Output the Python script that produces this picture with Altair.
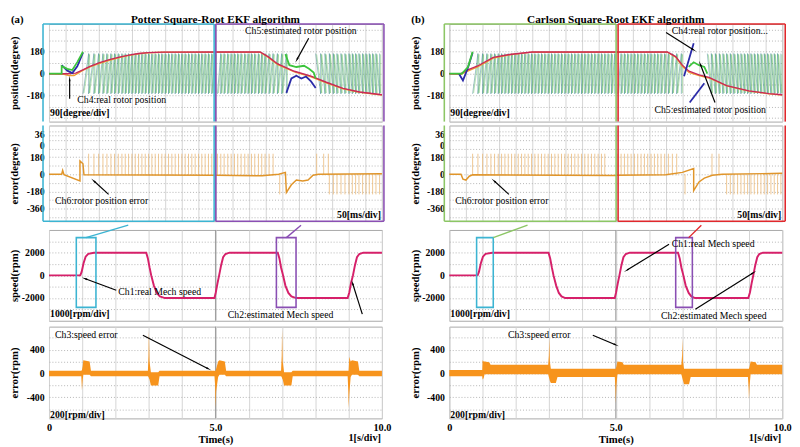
import math
import altair as alt
import pandas as pd

SERIF = "Liberation Serif"

# ---------------- values ----------------
# Zoomed panels: x is in divisions, 0-5 = first zoom window, 5-10 = second zoom window
A_TEETH_L = [1.02, 1.19, 1.35, 1.49, 1.62, 1.74, 1.86, 1.97, 2.08, 2.19, 2.29, 2.39, 2.49, 2.59,
             2.69, 2.79, 2.89, 2.99, 3.09, 3.19, 3.29, 3.39, 3.49, 3.59, 3.69, 3.79, 3.89, 3.99,
             4.09, 4.19, 4.29, 4.39, 4.49, 4.59, 4.69, 4.79, 4.89, 4.99]
A_TEETH_R1 = [5.06, 5.16, 5.26, 5.37, 5.47, 5.57, 5.67, 5.77, 5.88, 5.98, 6.08, 6.18, 6.29, 6.39,
              6.49, 6.61, 6.73, 6.86, 6.99, 7.13]
A_TEETH_R2 = [8.01, 8.16, 8.29, 8.42, 8.54, 8.65, 8.77, 8.89, 9.01, 9.11, 9.21, 9.31, 9.42, 9.52,
              9.62, 9.72, 9.82, 9.93]
A_BLUE = [[(0.38, 70), (0.55, 25), (0.70, 5), (0.85, 60), (1.02, 172)],
          [(7.13, -157), (7.28, -39), (7.43, -16), (7.58, -39), (7.72, -23), (7.87, -63), (8.01, -117)]]
A_GREEN = [[(0.00, 0), (0.38, 0), (0.38, 62), (0.55, 40), (0.70, 30), (0.85, 95), (1.02, 180)],
           [(7.10, 160), (7.22, 70), (7.43, 55), (7.66, 65), (7.81, 40), (7.95, 10), (8.01, -40)]]
A_REAL = [(0, 0), (0.55, 0), (0.80, 5), (1.00, 30), (1.23, 60), (1.52, 90), (1.81, 115), (2.11, 135),
          (2.40, 152), (2.69, 165), (2.98, 172), (3.42, 177), (4.99, 178), (5.03, 178), (6.34, 178),
          (6.58, 140), (6.87, 80), (7.37, 20), (7.87, -20), (8.33, -70), (8.83, -120), (9.33, -150),
          (10, -172)]
A_EST = [(0, 0), (0.45, -5), (0.60, -15), (0.75, -15), (0.85, 0), (1.00, 25), (1.23, 55), (1.52, 85),
         (1.81, 110), (2.11, 132), (2.40, 150), (2.69, 163), (2.98, 171), (3.42, 176), (4.99, 177),
         (5.03, 176), (6.34, 176), (6.58, 135), (6.87, 75), (7.37, 15), (7.87, -25), (8.33, -75),
         (8.83, -123), (9.33, -152), (10, -174)]
A_ERR = [(0, 0), (0.38, 0), (0.41, 40), (0.45, -5), (0.93, -70), (0.93, 140), (1.02, 110), (1.05, -5),
         (4.99, -10), (5.02, -10), (6.40, -15), (6.90, 0), (7.10, 20), (7.13, -190), (7.28, -110),
         (7.43, -60), (7.62, -70), (7.78, -60), (7.93, -10), (8.10, 0), (10, 5)]
A_ERR_UP = A_TEETH_L[1:] + A_TEETH_R1[:17] + [8.04, 8.25, 8.39]
A_ERR_DOWN = [6.93] + A_TEETH_R2[3:]

B_TEETH_L = [0.70, 0.86, 1.00, 1.13, 1.25, 1.36, 1.47, 1.57, 1.67, 1.77, 1.87, 1.97, 2.07, 2.17,
             2.27, 2.37, 2.47, 2.57, 2.67, 2.77, 2.87, 2.97, 3.07, 3.17, 3.27, 3.37, 3.47, 3.57,
             3.67, 3.77, 3.87, 3.97, 4.07, 4.17, 4.27, 4.37, 4.47, 4.57, 4.67, 4.77, 4.87, 4.97]
B_TEETH_R1 = [5.06, 5.16, 5.26, 5.36, 5.46, 5.56, 5.66, 5.76, 5.86, 5.96, 6.06, 6.16, 6.26, 6.36,
              6.47, 6.58, 6.70, 6.83, 6.97]
B_TEETH_R2 = [7.75, 7.87, 7.99, 8.11, 8.22, 8.33, 8.44, 8.55, 8.66, 8.76, 8.86, 8.96, 9.06, 9.16,
              9.26, 9.36, 9.46, 9.56, 9.66, 9.76, 9.86, 9.96]
B_BLUE = [[(0.29, 0), (0.41, -55), (0.55, 40), (0.70, 172)],
          [(7.05, -20), (7.34, 250)],
          [(7.22, -235), (7.66, -78)]]
B_GREEN = [[(0.00, 0), (0.38, 0), (0.56, 55), (0.70, 180)],
           [(7.19, 55), (7.34, 94), (7.50, 70), (7.66, 55), (7.75, 0)]]
B_REAL = [(0, 0), (0.35, 0), (0.50, 25), (0.85, 63), (1.32, 133), (1.81, 157), (2.49, 178), (4.99, 178),
          (5.03, 178), (6.55, 178), (6.80, 140), (7.00, 70), (7.20, 20), (7.50, -10), (7.80, -30),
          (8.33, -98), (9.00, -140), (9.60, -163), (10, -172)]
B_EST = [(0, 0), (0.35, -5), (0.50, 15), (0.85, 55), (1.32, 128), (1.81, 155), (2.49, 176), (4.99, 176),
         (5.03, 176), (6.55, 176), (6.80, 135), (7.00, 60), (7.20, 10), (7.50, -15), (7.80, -35),
         (8.33, -100), (9.00, -142), (9.60, -165), (10, -174)]
B_ERR = [(0, 0), (0.35, 0), (0.41, -50), (0.50, -60), (0.60, -20), (0.70, -5), (4.99, -12), (5.03, -10),
         (6.50, -5), (7.00, 20), (7.34, 60), (7.34, -170), (7.50, -80), (7.66, -40), (7.90, -10),
         (8.20, 0), (10, 10)]
B_ERR_UP = B_TEETH_L[:39] + B_TEETH_R1[:18] + [7.89, 8.10]
B_ERR_DOWN = [7.08] + B_TEETH_R2[5:]

# Full-record panels: time in s
A_SPEED = [(0, 0), (0.94, 0), (0.98, 300), (1.04, 1100), (1.10, 1650), (1.18, 1900), (1.35, 2000),
           (2.92, 2000), (2.97, 1500), (3.02, 700), (3.07, 0), (3.15, -900), (3.24, -1550), (3.33, -1850),
           (3.48, -2000), (4.97, -2000), (5.01, -1500), (5.06, -700), (5.11, 0), (5.17, 900),
           (5.23, 1600), (5.30, 1880), (5.42, 2000), (6.87, 2000), (6.92, 1500), (6.97, 700), (7.03, 0),
           (7.10, -900), (7.19, -1550), (7.28, -1850), (7.42, -2000), (8.97, -2000), (9.02, -1500),
           (9.07, -700), (9.13, 0), (9.19, 900), (9.25, 1600), (9.32, 1880), (9.44, 2000), (10, 2000)]
B_SPEED = [(0, 0), (0.85, 0), (0.89, 300), (0.95, 1100), (1.01, 1650), (1.09, 1900), (1.29, 2000),
           (2.98, 2000), (3.03, 1500), (3.08, 700), (3.13, 0), (3.21, -900), (3.29, -1550), (3.37, -1850),
           (3.48, -2000), (4.97, -2000), (5.01, -1500), (5.06, -700), (5.11, 0), (5.17, 900),
           (5.23, 1600), (5.30, 1880), (5.42, 2000), (6.87, 2000), (6.92, 1500), (6.97, 700), (7.03, 0),
           (7.10, -900), (7.19, -1550), (7.27, -1850), (7.38, -2000), (8.98, -2000), (9.03, -1500),
           (9.08, -700), (9.13, 0), (9.19, 900), (9.25, 1600), (9.31, 1880), (9.42, 2000), (10, 2000)]
# speed error envelope (t, low, high)
A_SPEED_ERR = [(0.00, -45, 45), (0.97, -45, 45), (0.99, -280, 60), (1.01, -120, 120), (1.03, -20, 220),
               (1.22, -20, 200), (1.26, -45, 45), (2.97, -45, 45), (2.99, -60, 300), (3.00, -80, 720),
               (3.02, -100, 200), (3.06, -200, 20), (3.28, -200, 20), (3.32, -45, 45), (4.97, -45, 45),
               (4.99, -200, 40), (5.00, -580, 40), (5.02, -300, 80), (5.08, -60, 200), (5.12, -20, 220),
               (5.28, -20, 200), (5.32, -45, 45), (6.97, -45, 45), (6.99, -60, 300), (7.00, -80, 740),
               (7.02, -100, 200), (7.06, -200, 20), (7.28, -200, 20), (7.32, -45, 45), (8.97, -45, 45),
               (8.99, -300, 40), (9.00, -580, 60), (9.02, -350, 280), (9.06, -60, 200), (9.10, -20, 220),
               (9.28, -20, 200), (9.32, -45, 45), (10.00, -45, 45)]
B_SPEED_ERR = [(0.00, -45, 60), (0.99, -45, 60), (1.00, -100, 220), (1.03, -80, 200), (1.06, -15, 200),
               (1.20, -15, 190), (1.24, -15, 145), (2.97, -15, 145), (2.99, -60, 300), (3.00, -80, 600),
               (3.02, -120, 200), (3.05, -160, 80), (3.20, -160, 80), (3.25, -60, 80), (4.97, -60, 80),
               (4.99, -250, 80), (5.00, -500, 80), (5.02, -200, 120), (5.05, -15, 200), (5.20, -15, 190),
               (5.24, -15, 145), (6.97, -15, 145), (6.99, -60, 300), (7.00, -80, 580), (7.02, -120, 200),
               (7.05, -180, 80), (7.20, -180, 80), (7.25, -60, 80), (8.97, -60, 80), (8.99, -250, 80),
               (9.00, -430, 80), (9.02, -200, 120), (9.05, -15, 200), (9.20, -15, 190), (9.24, -15, 145),
               (10.00, -15, 145)]

# ---------------- layout ----------------
W = 341
H_POS, H_ERR, H_SPD, H_SPE = 100, 98, 93, 94
DX = [0, 10]
D_POS = [-392, 407]
D_ERR = [-490, 510]
D_SPD = [-4000, 4000]
D_SPE = [-752, 784]


def sc(d):
    return alt.Scale(domain=d, nice=False, zero=False)


class Panel:
    def __init__(self, xd, yd, H, xa, ya):
        self.xd, self.yd, self.H, self.xa, self.ya = xd, yd, H, xa, ya


def X(f, p):
    return alt.X(field=f, type="quantitative", scale=sc(p.xd), axis=p.xa)


def Y(f, p):
    return alt.Y(field=f, type="quantitative", scale=sc(p.yd), axis=p.ya)


def yaxis(title, values, shown, H, multi=None):
    cond = " || ".join(f"datum.value == {v}" for v in shown)
    expr = f"({cond}) ? '' + datum.value : ''"
    if multi is not None:
        expr = f"datum.value == {multi} ? ['36', '0'] : " + expr
    return alt.Axis(title=title, values=values, labelExpr=expr, grid=True, gridColor="#b4b4b4",
                    gridDash=[1, 2], ticks=False, domain=False, labelOverlap=False,
                    labelFont=SERIF, labelFontWeight="bold", labelFontSize=10, labelColor="black",
                    labelPadding=5, labelLineHeight=11, titleFont=SERIF, titleFontWeight="bold",
                    titleFontSize=11, titleColor="black", titleX=-35, titleY=H / 2,
                    titleBaseline="middle", titleAngle=270)


def xaxis_plain(values):
    return alt.Axis(values=values, labels=False, ticks=False, domain=False, title=None, grid=True,
                    gridColor="#d4d4d4")


def xaxis_time():
    return alt.Axis(values=list(range(11)), grid=True, gridColor="#d4d4d4", ticks=False, domain=False,
                    labelExpr="datum.value == 0 ? '0' : datum.value == 5 ? '5.0' : datum.value == 10 ? '10.0' : ''",
                    labelFlush=False, labelOverlap=False, labelFont=SERIF, labelFontWeight="bold",
                    labelFontSize=10.5, labelColor="black", labelPadding=4, title="Time(s)",
                    titleFont=SERIF, titleFontWeight="bold", titleFontSize=11, titleColor="black",
                    titlePadding=1)


def lines(segs, color, width, p, opacity=1.0):
    rows = []
    for k, pts in enumerate(segs):
        for i, (x, y) in enumerate(pts):
            rows.append({"x": x, "y": y, "seg": k, "i": i})
    return alt.Chart(pd.DataFrame(rows)).mark_line(color=color, strokeWidth=width, opacity=opacity).encode(
        x=X("x", p), y=Y("y", p), detail="seg:N", order="i:Q")


def teeth(xs_list, amp, rising, dx=0.0):
    s = 1 if rising else -1
    pts = [(xs_list[0] + dx, -s * amp)]
    for x in xs_list[1:]:
        pts.append((x + dx, s * amp))
        pts.append((x + dx, -s * amp))
    return pts


def segments(rows, color, width, p):
    df = pd.DataFrame(rows, columns=["x1", "y1", "x2", "y2"])
    return alt.Chart(df).mark_rule(color=color, strokeWidth=width).encode(
        x=X("x1", p), y=Y("y1", p), x2=alt.X2("x2"), y2=alt.Y2("y2"))


def spikes(xs_list, y0, y1, color, p):
    df = pd.DataFrame({"x": xs_list, "a": [y0] * len(xs_list), "b": [y1] * len(xs_list)})
    return alt.Chart(df).mark_rule(color=color, strokeWidth=0.8).encode(
        x=X("x", p), y=Y("a", p), y2=alt.Y2("b"))


def vline(x, color, p):
    df = pd.DataFrame({"x": [x], "a": [p.yd[0]], "b": [p.yd[1]]})
    return alt.Chart(df).mark_rule(color=color, strokeWidth=1).encode(x=X("x", p), y=Y("a", p), y2=alt.Y2("b"))


def text(x, y, s, p, align="left", bold=False, size=10):
    df = pd.DataFrame({"x": [x], "y": [y], "t": [s]})
    return alt.Chart(df).mark_text(align=align, baseline="middle", font=SERIF, fontSize=size,
                                   fontWeight="bold" if bold else "normal", color="black").encode(
        x=X("x", p), y=Y("y", p), text="t:N")


def arrows(rows, p):
    sx = W / (p.xd[1] - p.xd[0])
    sy = p.H / (p.yd[1] - p.yd[0])
    recs = []
    for (x1, y1, x2, y2) in rows:
        dxp = (x2 - x1) * sx
        dyp = -(y2 - y1) * sy
        ang = math.degrees(math.atan2(dxp, -dyp)) % 360
        recs.append({"x1": x1, "y1": y1, "x2": x2, "y2": y2, "ang": ang})
    df = pd.DataFrame(recs)
    shaft = alt.Chart(df).mark_rule(color="black", strokeWidth=1.2).encode(
        x=X("x1", p), y=Y("y1", p), x2=alt.X2("x2"), y2=alt.Y2("y2"))
    head = alt.Chart(df).mark_point(shape="wedge", filled=True, color="black", opacity=1, size=45).encode(
        x=X("x2", p), y=Y("y2", p), angle=alt.Angle("ang:Q", scale=None))
    return [shaft, head]


def column(c):
    half = [i * 0.5 for i in range(21)]
    b1, b2 = c["box1"], c["box2"]
    # ---- position (zoomed) ----
    p = Panel(DX, D_POS, H_POS, xaxis_plain(half),
              yaxis("position(degree)", [-360, -270, -180, -90, 0, 90, 180, 270, 360], [-180, 0, 180], H_POS))
    tsegs = [teeth(c["tl"], 165, True), teeth(c["tr1"], 165, True), teeth(c["tr2"], 165, False)]
    gsegs = [teeth(c["tl"], 158, True, 0.03), teeth(c["tr1"], 158, True, 0.03),
             teeth(c["tr2"], 158, False, 0.03)]
    L = [lines(tsegs, "#2f7f86", 0.6, p, 0.8),
         lines(gsegs, "#62c05a", 0.6, p, 0.75),
         lines([c["est"]], "#f0a030", 1.4, p),
         lines([c["real"]], "#c8285a", 1.4, p),
         lines(c["blue"], "#2a2aa8", 1.8, p),
         lines(c["green"], "#3cc43c", 1.8, p),
         segments([(b1[0], D_POS[0], b1[0], D_POS[1]), (b1[1], D_POS[0], b1[1], D_POS[1]),
                   (b1[0], D_POS[1], b1[1], D_POS[1])], c["c1"], 1.6, p),
         segments([(b2[0], D_POS[0], b2[0], D_POS[1]), (b2[1], D_POS[0], b2[1], D_POS[1]),
                   (b2[0], D_POS[1], b2[1], D_POS[1])], c["c2"], 1.6, p),
         text(-1.14, 437, c["tag"], p, "left", True, 11),
         text(5.0, 437, c["title"], p, "center", True, 11.5)]
    for t in c["pos_text"]:
        L.append(text(*t[:3], p, *t[3:]))
    L += arrows(c["pos_arrows"], p)
    pos = alt.layer(*L).properties(width=W, height=H_POS)

    # ---- position error (zoomed) ----
    p = Panel(DX, D_ERR, H_ERR, xaxis_plain(half),
              yaxis("error(degree)", [-450, -360, -270, -180, -90, 0, 90, 180, 270, 360, 412, 450],
                    [-360, -180, 0, 180], H_ERR, multi=412))
    L = [spikes(c["err_up"], -10, 215, "#ebb877", p),
         spikes(c["err_dn"], 0, -210, "#ebb877", p),
         lines([c["err"]], "#e0952a", 1.5, p),
         segments([(b1[0], D_ERR[0], b1[0], D_ERR[1]), (b1[1], D_ERR[0], b1[1], D_ERR[1]),
                   (b1[0], D_ERR[0], b1[1], D_ERR[0])], c["c1"], 1.6, p),
         segments([(b2[0], D_ERR[0], b2[0], D_ERR[1]), (b2[1], D_ERR[0], b2[1], D_ERR[1]),
                   (b2[0], D_ERR[0], b2[1], D_ERR[0])], c["c2"], 1.6, p),
         text(0.18, -280, "Ch6:rotor position error", p),
         text(9.97, -430, "50[ms/div]", p, "right", True)]
    L += arrows([(1.79, -210, 1.35, -70)], p)
    err = alt.layer(*L).properties(width=W, height=H_ERR)

    # ---- speed ----
    p = Panel(DX, D_SPD, H_SPD, xaxis_plain(list(range(11))),
              yaxis("speed(rpm)", [-3000, -2000, -1000, 0, 1000, 2000, 3000], [-2000, 0, 2000], H_SPD))
    rdf = pd.DataFrame({"x1": [c["r1"][0], c["r2"][0]], "x2": [c["r1"][1], c["r2"][1]],
                        "y1": [3326, 3326], "y2": [-2821, -2821], "k": ["a", "b"]})
    L = [vline(5, "#9a9a9a", p),
         lines([c["speed"]], "#d6206a", 2.0, p),
         alt.Chart(rdf).mark_rect(fillOpacity=0, strokeWidth=1.6).encode(
             x=X("x1", p), x2=alt.X2("x2"), y=Y("y1", p), y2=alt.Y2("y2"),
             stroke=alt.Stroke("k:N", scale=alt.Scale(domain=["a", "b"], range=[c["c1"], c["c2"]]),
                               legend=None)),
         segments([c["conn1"]], c["c1"], 1.4, p),
         segments([c["conn2"]], c["c2"], 1.4, p),
         text(0.03, -3410, "1000[rpm/div]", p, "left", True)]
    for t in c["spd_text"]:
        L.append(text(*t[:3], p, *t[3:]))
    L += arrows(c["spd_arrows"], p)
    spd = alt.layer(*L).properties(width=W, height=H_SPD)

    # ---- speed error ----
    p = Panel(DX, D_SPE, H_SPE, xaxis_time(),
              yaxis("error(rpm)", [-600, -400, -200, 0, 200, 400, 600], [-400, 0, 400], H_SPE))
    edf = pd.DataFrame(c["spe"], columns=["t", "lo", "hi"])
    L = [vline(5, "#9a9a9a", p),
         alt.Chart(edf).mark_area(color="#f7941d", opacity=1).encode(
             x=X("t", p), y=Y("lo", p), y2=alt.Y2("hi")),
         text(c["ch3"][0], 640, "Ch3:speed error", p),
         text(0.03, -688, "200[rpm/div]", p, "left", True),
         text(9.97, -1085, "1[s/div]", p, "right", True, 10.5)]
    L += arrows([c["ch3"][1]], p)
    spe = alt.layer(*L).properties(width=W, height=H_SPE)

    top = alt.vconcat(pos, err, spacing=0)
    bot = alt.vconcat(spd, spe, spacing=4)
    return alt.vconcat(top, bot, spacing=0)


colA = column(dict(
    title="Potter Square-Root EKF algorithm", tag="(a)",
    tl=A_TEETH_L, tr1=A_TEETH_R1, tr2=A_TEETH_R2, blue=A_BLUE, green=A_GREEN, real=A_REAL, est=A_EST,
    err=A_ERR, err_up=A_ERR_UP, err_dn=A_ERR_DOWN, speed=A_SPEED, spe=A_SPEED_ERR,
    c1="#3cb4d2", c2="#8a4fb3", box1=(-0.18, 4.96), box2=(5.01, 10.06),
    r1=(0.82, 1.41), r2=(6.83, 7.42),
    conn1=(1.11, 3326, 2.38, 4421), conn2=(7.13, 3326, 7.57, 4421),
    pos_text=[(0.85, -219, "Ch4:real rotor position"),
              (5.89, 352, "Ch5:estimated rotor position"), (0.03, -321, "90[degree/div]", "left", True)],
    pos_arrows=[(0.62, -204, 0.62, -47), (7.80, 290, 7.45, 117)],
    spd_text=[(2.08, -1473, "Ch1:real Mech speed"), (5.37, -3494, "Ch2:estimated Mech speed")],
    spd_arrows=[(2.02, -1305, 1.09, -295), (9.41, -3410, 9.12, -716)],
    ch3=(0.18, (2.82, 640, 4.78, 80)),
))

colB = column(dict(
    title="Carlson Square-Root EKF algorithm", tag="(b)",
    tl=B_TEETH_L, tr1=B_TEETH_R1, tr2=B_TEETH_R2, blue=B_BLUE, green=B_GREEN, real=B_REAL, est=B_EST,
    err=B_ERR, err_up=B_ERR_UP, err_dn=B_ERR_DOWN, speed=B_SPEED, spe=B_SPEED_ERR,
    c1="#8cc665", c2="#e0282c", box1=(-0.15, 5.01), box2=(5.07, 10.09),
    r1=(0.82, 1.32), r2=(6.80, 7.30),
    conn1=(1.32, 3326, 2.35, 4421), conn2=(7.19, 3326, 7.57, 4421),
    pos_text=[(6.68, 352, "Ch4:real rotor position..."),
              (6.16, -298, "Ch5:estimated rotor position"), (0.03, -321, "90[degree/div]", "left", True)],
    pos_arrows=[(6.51, 337, 7.33, 196), (7.98, -235, 7.54, 78)],
    spd_text=[(6.68, 2737, "Ch1:real Mech speed"), (6.36, -3579, "Ch2:estimated Mech speed")],
    spd_arrows=[(6.60, 2737, 5.34, 463), (7.39, -2990, 9.12, 210)],
    ch3=(1.76, (4.31, 640, 4.99, 480)),
))

chart = alt.hconcat(colA, colB, spacing=17).properties(padding=0).configure_view(
    stroke="#a8a8a8", strokeWidth=1)

chart.save("out.html", embed_options={"renderer": "svg", "actions": False})
